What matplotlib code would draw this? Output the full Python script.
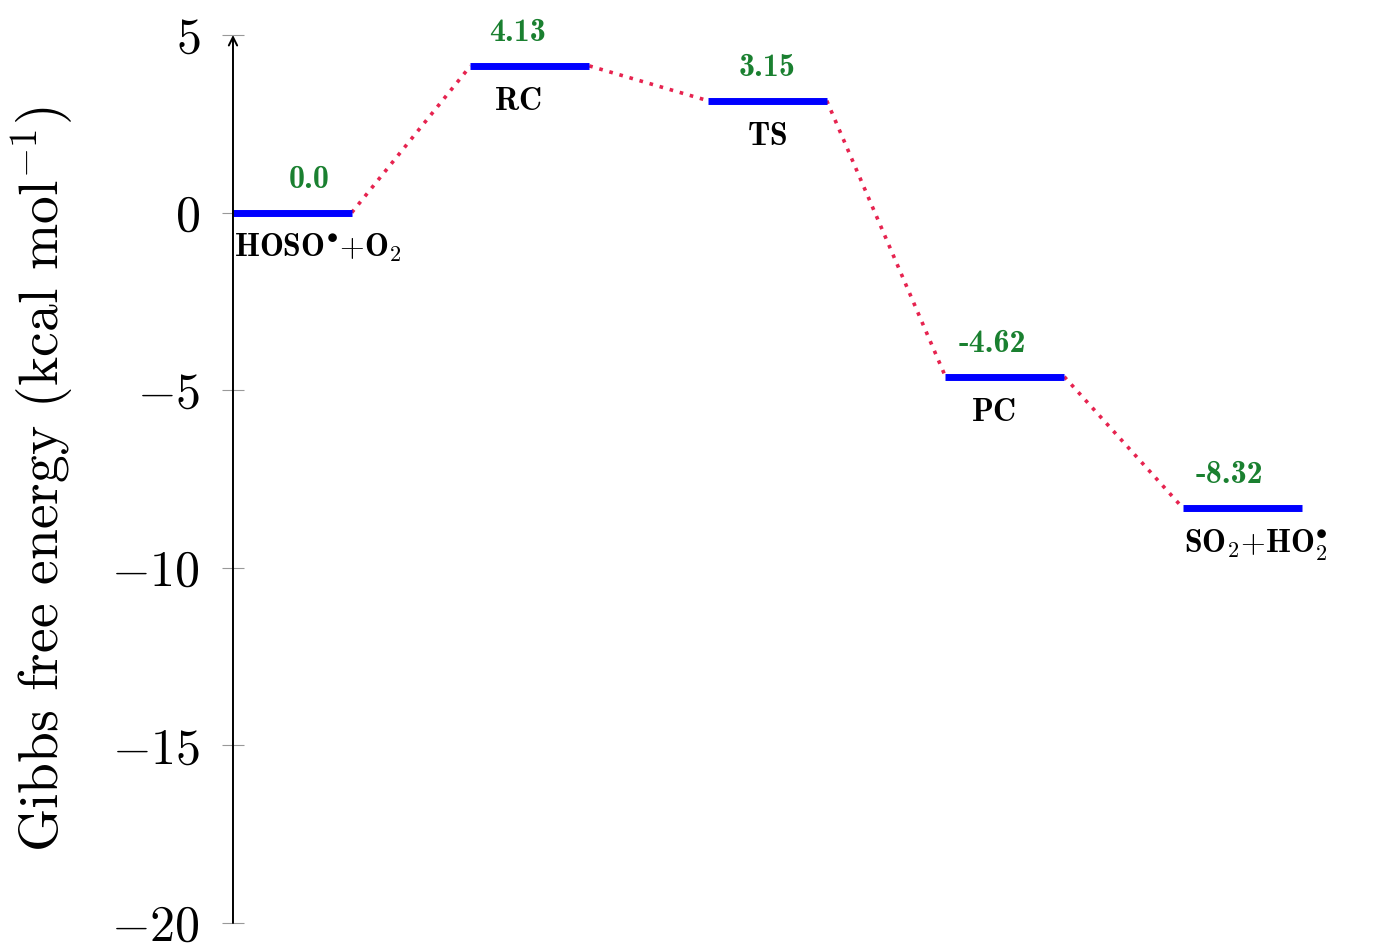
import matplotlib
matplotlib.use('Agg')
import matplotlib.pyplot as plt

# energy levels (kcal/mol)
species = [r'$\mathbf{HOSO}^{\bullet}\mathbf{+O}_{2}$', r'$\mathbf{RC}$', r'$\mathbf{TS}$',
           r'$\mathbf{PC}$', r'$\mathbf{SO}_{2}\mathbf{+HO}_{2}^{\bullet}$']
energies = [0.0, 4.13, 3.15, -4.62, -8.32]
value_labels = ['0.0', '4.13', '3.15', '-4.62', '-8.32']
yticks = [5, 0, -5, -10, -15, -20]

# small horizontal nudges of the annotations (points)
value_dx = [12, -9, 0, -9, -9]
name_dx = [1, -9, 0, -8, 1]

plt.rcParams['font.family'] = 'serif'
plt.rcParams['font.serif'] = ['cmr10']
plt.rcParams['mathtext.fontset'] = 'cm'
plt.rcParams['axes.formatter.use_mathtext'] = True

fig = plt.figure(figsize=(13.77, 9.43), dpi=100)
ax = fig.add_axes([0.1692, 0.0212, 0.7934, 0.9417])

bar_w = 0.5
level_color = '#0000ff'
link_color = '#e6234f'
value_color = '#1a8030'

for i, e in enumerate(energies):
    ax.plot([i, i + bar_w], [e, e], color=level_color, lw=5, solid_capstyle='butt', zorder=3)
    # value above the level
    ax.annotate(value_labels[i], xy=(i + bar_w / 2, e), xytext=(value_dx[i], 18),
                textcoords='offset points', ha='center', va='baseline',
                color=value_color, fontsize=23, family='cmb10', annotation_clip=False)
    # species name below the level
    if i in (0, len(energies) - 1):
        ax.annotate(species[i], xy=(i, e), xytext=(name_dx[i], -32), textcoords='offset points',
                    ha='left', va='baseline', fontsize=23, annotation_clip=False)
    else:
        ax.annotate(species[i], xy=(i + bar_w / 2, e), xytext=(name_dx[i], -32),
                    textcoords='offset points', ha='center', va='baseline',
                    fontsize=23, annotation_clip=False)

# dotted connectors between levels
for i in range(len(energies) - 1):
    ax.plot([i + bar_w, i + 1], [energies[i], energies[i + 1]], color=link_color,
            lw=2.6, linestyle=(0, (1, 1.9)), dash_capstyle='butt', zorder=2)

ax.set_xlim(0, 4.6)
ax.set_ylim(-20, 5)
ax.set_yticks(yticks)
ax.set_xticks([])
for s in ax.spines.values():
    s.set_visible(False)
ax.tick_params(axis='y', direction='inout', length=16.5, width=0.8, color='#999999',
               pad=15.5, labelsize=36)

# y axis line with arrow
ax.annotate('', xy=(0, 5), xytext=(0, -20),
            arrowprops=dict(arrowstyle='->,head_length=0.6,head_width=0.3', lw=1.4,
                            color='black', shrinkA=0, shrinkB=0),
            annotation_clip=False, zorder=4)

ax.set_ylabel(r'Gibbs free energy (kcal mol$^{-1}$)', fontsize=40)
ax.yaxis.set_label_coords(-0.144, 0.5)

fig.savefig('out.png', dpi=100)
